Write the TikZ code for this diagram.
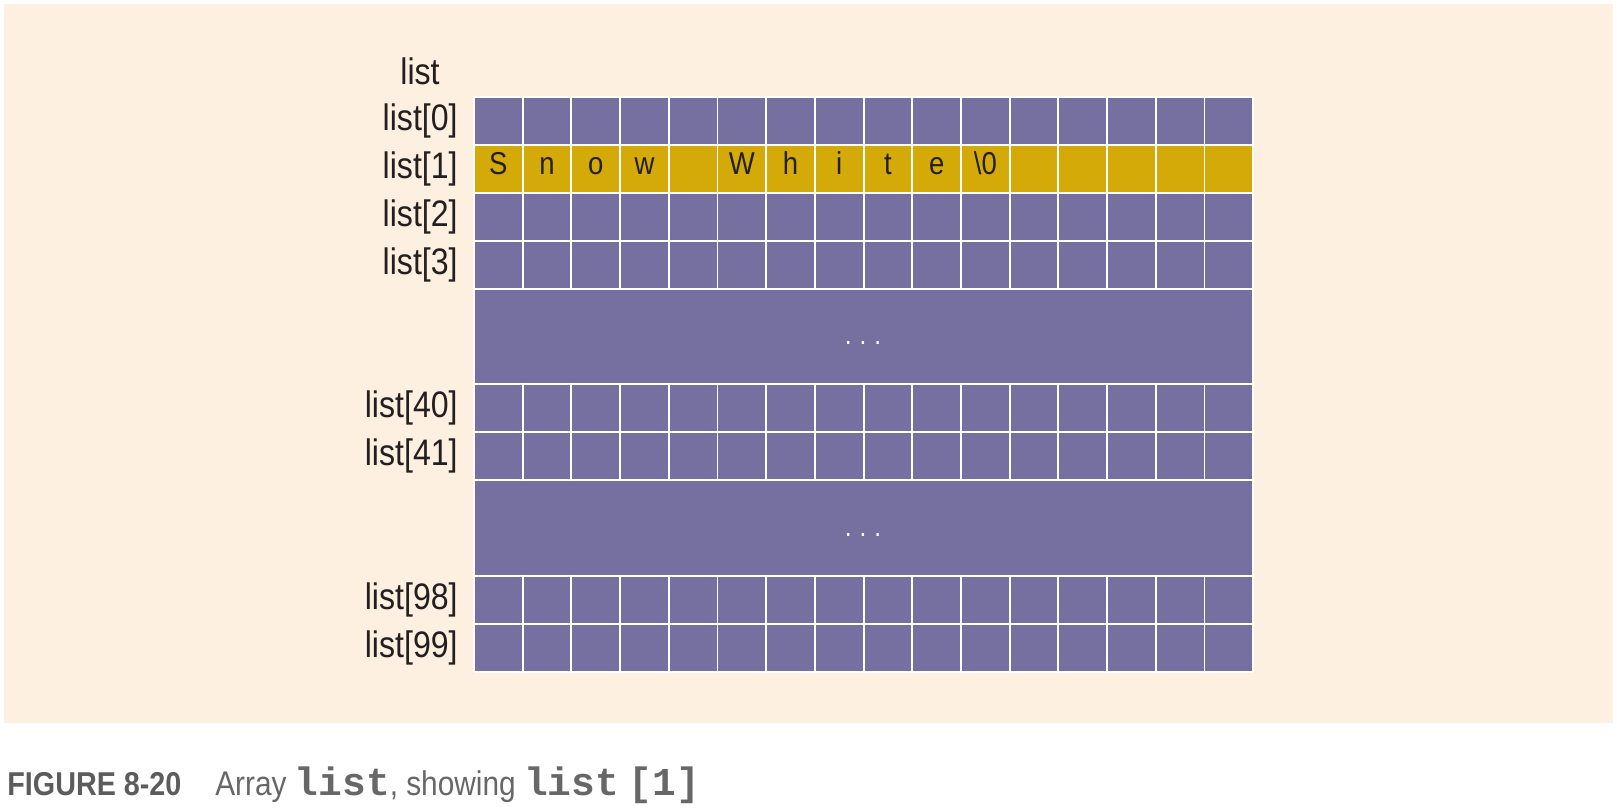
\documentclass[tikz,border=0pt]{standalone}
\usepackage{fontspec}
\setmainfont[FakeStretch=0.87]{Liberation Sans}
\setmonofont{Liberation Mono}
\usepackage{xcolor}
\usepackage{tikz}
\usetikzlibrary{positioning}

\definecolor{panel}{HTML}{FDF0E1}
\definecolor{slot}{HTML}{75709F}
\definecolor{hilite}{HTML}{D4AA08}
\definecolor{ink}{HTML}{231F20}
\definecolor{capdark}{HTML}{5C5C5C}
\definecolor{caplight}{HTML}{676767}

\begin{document}
\begin{tikzpicture}[
      cell/.style={rectangle, draw=white, line width=1.1pt, fill=slot, inner sep=0pt,
        minimum width=0.974cm, minimum height=0.958cm},
      goldcell/.style={cell, fill=hilite, text=ink, font=\fontsize{18}{20}\selectfont,
        text height=0.7em, text depth=0pt},
      gapblock/.style={cell, minimum width=15.584cm, minimum height=1.916cm},
      gapdots/.style={text=white, inner sep=0pt, font=\fontsize{16}{18}\selectfont},
      rowlabel/.style={anchor=east, text=ink, inner sep=0pt, font=\fontsize{21}{24}\selectfont}
    ]
      \useasboundingbox (0,0) rectangle (32.34,-16.2);
      \fill[panel] (0.08,-0.08) rectangle (32.26,-14.46);

      \node[text=ink, inner sep=0pt, font=\fontsize{21}{24}\selectfont] (arr) at (8.4,-1.43) {list};

      % plain rows: row position / index / name
      \foreach \r/\idx/\nm in {0/0/a,2/2/c,3/3/d,6/40/e,7/41/f,10/98/g,11/99/h} {
        \foreach \c in {0,...,15}
          \node[cell] (\nm\c) at ({9.967+\c*0.974},{-2.419-\r*0.958}) {};
        \node[rowlabel] (lab\nm) at (9.16,{-2.419-\r*0.958}) {list[\idx]};
      }

      % list[1]
      \foreach \letter [count=\c from 0] in {S,n,o,w,{},W,h,i,t,e,\textbackslash0,{},{},{},{},{}}
        \node[goldcell] (b\c) at ({9.967+\c*0.974},-3.377) {\letter};
      \node[rowlabel] (labb) at (9.16,-3.377) {list[1]};

      \node[gapblock] (gapA) at (17.272,-6.73) {};
      \node[gapblock] (gapB) at (17.272,-10.562) {};
      \node[gapdots] (dotsA) at (17.26,-6.86) {.\hspace{0.16cm}.\hspace{0.16cm}.};
      \node[gapdots] (dotsB) at (17.26,-10.69) {.\hspace{0.16cm}.\hspace{0.16cm}.};

      \node[anchor=base west, inner sep=0pt, text=capdark, font=\fontsize{18.8}{22}\bfseries] (fig) at (0.14,-15.9) {FIGURE 8-20};
      \node[anchor=base west, inner sep=0pt, text=caplight, font=\fontsize{19.5}{24}\selectfont] (cap) at (4.3,-15.9)
        {Array {\fontsize{22.5}{26}\ttfamily\bfseries list}, showing {\fontsize{22.5}{26}\ttfamily\bfseries list\hspace{0.25em}[1]}};
    \end{tikzpicture}
\end{document}
